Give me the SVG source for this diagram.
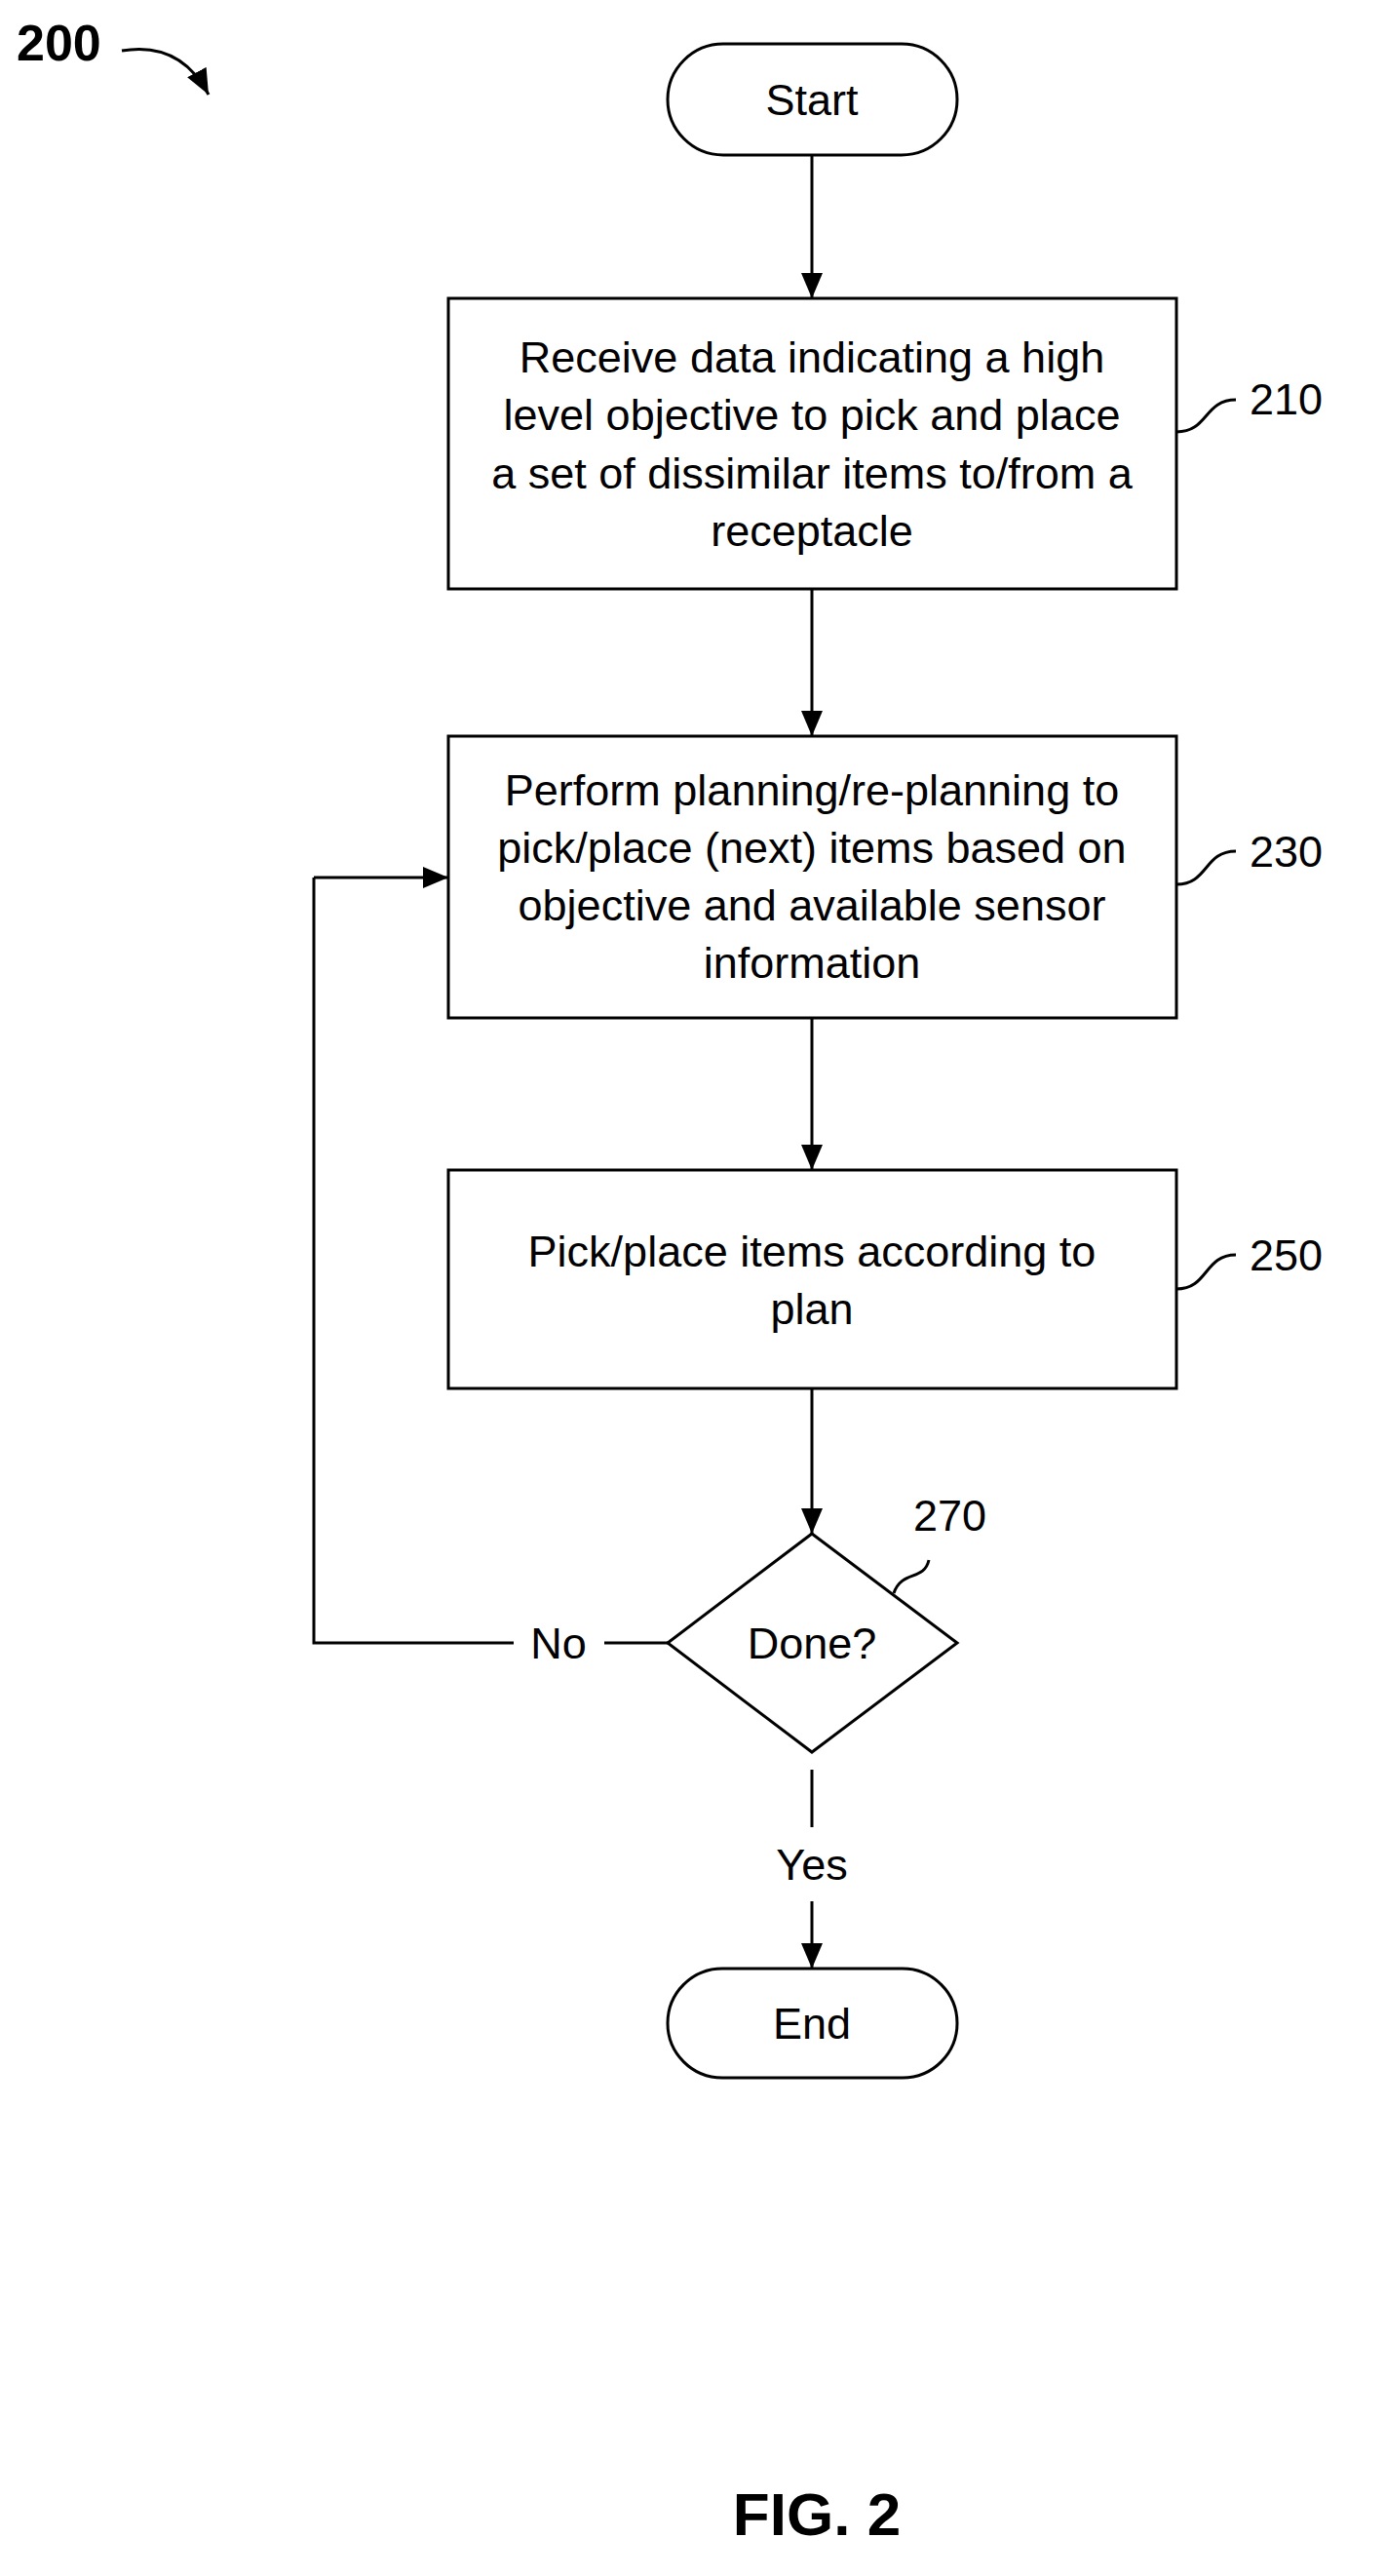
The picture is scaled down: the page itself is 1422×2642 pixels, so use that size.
<svg xmlns="http://www.w3.org/2000/svg" width="1422" height="2642" viewBox="0 0 1422 2642">
<defs>
<marker id="ah" markerWidth="26" markerHeight="22" refX="26" refY="11" orient="auto" markerUnits="userSpaceOnUse" viewBox="0 0 26 22"><path d="M0,0 L26,11 L0,22 z" fill="#000"/></marker>
<style>
.s{fill:#fff;stroke:#000;stroke-width:3}
.l{fill:none;stroke:#000;stroke-width:3}
.c{fill:none;stroke:#000;stroke-width:3;marker-end:url(#ah)}
text{font-family:"Liberation Sans",Arial,sans-serif;font-size:45px;fill:#000}
.m{text-anchor:middle}
</style>
</defs>
<rect width="1422" height="2642" fill="#fff"/>
<g id="connectors">
<path class="c" d="M833,159 V306"/>
<path class="c" d="M833,604 V755"/>
<path class="c" d="M833,1044 V1200"/>
<path class="c" d="M833,1424 V1573"/>
<path class="l" d="M685,1685 H620 M527,1685 H322 V900"/>
<path class="c" d="M322,900 H460"/>
<path class="l" d="M833,1815 V1874"/>
<path class="c" d="M833,1950 V2019"/>
</g>
<g id="label200">
<text x="17" y="62" style="font-weight:bold;font-size:52px">200</text>
<path class="c" d="M125,52 Q185,42 214,97"/>
</g>
<g id="start"><rect class="s" x="685" y="45" width="297" height="114" rx="57"/><text class="m" x="833" y="118">Start</text></g>
<g id="n210"><rect class="s" x="460" y="306" width="747" height="298"/>
<text class="m" x="833" y="382">Receive data indicating a high</text>
<text class="m" x="833" y="441">level objective to pick and place</text>
<text class="m" x="833" y="501">a set of dissimilar items to/from a</text>
<text class="m" x="833" y="560">receptacle</text>
<path class="l" d="M1207,443 C1240,443 1235,410 1268,410"/><text x="1282" y="425">210</text></g>
<g id="n230"><rect class="s" x="460" y="755" width="747" height="289"/>
<text class="m" x="833" y="826">Perform planning/re-planning to</text>
<text class="m" x="833" y="885">pick/place (next) items based on</text>
<text class="m" x="833" y="944">objective and available sensor</text>
<text class="m" x="833" y="1003">information</text>
<path class="l" d="M1207,907 C1240,907 1235,873 1268,873"/><text x="1282" y="889">230</text></g>
<g id="n250"><rect class="s" x="460" y="1200" width="747" height="224"/>
<text class="m" x="833" y="1299">Pick/place items according to</text>
<text class="m" x="833" y="1358">plan</text>
<path class="l" d="M1207,1322 C1240,1322 1235,1287 1268,1287"/><text x="1282" y="1303">250</text></g>
<g id="n270"><path class="s" d="M833,1573 L982,1685 L833,1797 L685,1685 Z"/>
<text class="m" x="833" y="1701">Done?</text>
<path class="l" d="M917,1634 C925,1610 948,1622 953,1600"/><text x="937" y="1570">270</text></g>
<text class="m" x="573" y="1701">No</text>
<text class="m" x="833" y="1928">Yes</text>
<g id="end"><rect class="s" x="685" y="2019" width="297" height="112" rx="56"/><text class="m" x="833" y="2091">End</text></g>
<text class="m" x="838" y="2600" style="font-weight:bold;font-size:62px">FIG. 2</text>
</svg>
